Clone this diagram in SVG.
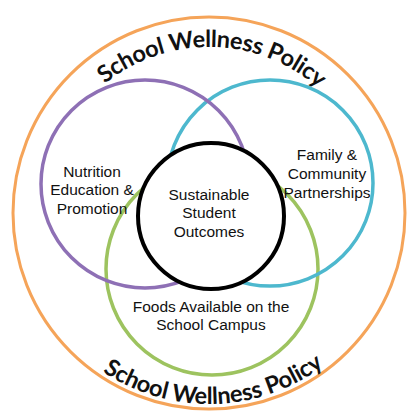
<svg xmlns="http://www.w3.org/2000/svg" width="410" height="417" viewBox="0 0 410 417">
  <style>
    .ring { fill: none; }
    .lbl { font-family: "Liberation Sans", Arial, sans-serif; font-size: 15.5px; fill: #111; text-anchor: middle; }
    .arc { font-family: Lato, "Open Sans", sans-serif; font-weight: bold; font-size: 23.5px; fill: #111; }
  </style>
  <defs>
    <!-- top arc runs clockwise so letters stand outward; bottom arc runs left-to-right through the bottom -->
    <path id="topArc" d="M 43 213 A 166 166 0 0 1 375 213"/>
    <path id="botArc" d="M 18 213 A 191 191 0 0 0 400 213"/>
  </defs>
  <rect width="410" height="417" fill="#fff"/>

  <g id="policy">
    <circle class="ring" cx="209" cy="213" r="196" stroke="#F5A459" stroke-width="3"/>
    <text class="arc"><textPath href="#topArc" startOffset="264" text-anchor="middle" textLength="232" lengthAdjust="spacing">School Wellness Policy</textPath></text>
    <text class="arc"><textPath href="#botArc" startOffset="305" text-anchor="middle" textLength="236" lengthAdjust="spacing">School Wellness Policy</textPath></text>
  </g>

  <g id="foods">
    <circle class="ring" cx="212" cy="269" r="106" stroke="#9DC35F" stroke-width="3.5"/>
    <text class="lbl" x="211" y="312">Foods Available on the</text>
    <text class="lbl" x="211" y="330">School Campus</text>
  </g>

  <g id="family">
    <circle class="ring" cx="270" cy="183" r="103" stroke="#4DB8CE" stroke-width="3.5"/>
    <text class="lbl" x="327" y="160">Family &amp;</text>
    <text class="lbl" x="327" y="179">Community</text>
    <text class="lbl" x="327" y="198">Partnerships</text>
  </g>

  <g id="nutrition">
    <circle class="ring" cx="145" cy="184" r="104" stroke="#8E70B5" stroke-width="3.5"/>
    <text class="lbl" x="92" y="177">Nutrition</text>
    <text class="lbl" x="92" y="195">Education &amp;</text>
    <text class="lbl" x="92" y="214">Promotion</text>
  </g>

  <g id="outcomes">
    <circle cx="211" cy="216" r="73" fill="#fff" stroke="#000" stroke-width="4"/>
    <text class="lbl" x="209" y="200">Sustainable</text>
    <text class="lbl" x="209" y="218">Student</text>
    <text class="lbl" x="209" y="237">Outcomes</text>
  </g>
</svg>
